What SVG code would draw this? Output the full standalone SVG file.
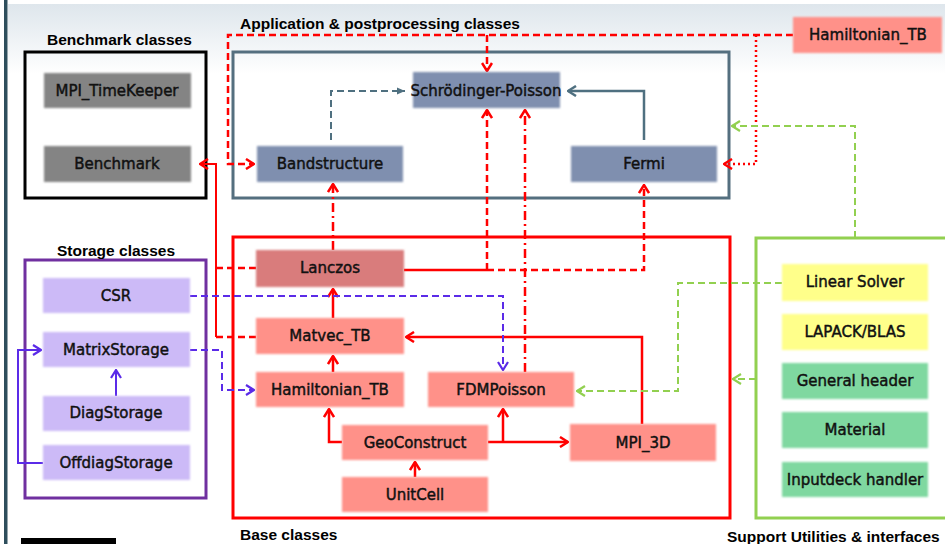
<svg xmlns="http://www.w3.org/2000/svg" width="945" height="544" viewBox="0 0 945 544">
<style>
.title{font-family:"Liberation Sans",Arial,sans-serif;font-weight:bold;font-size:15.5px;fill:#000}
.lbl{font-family:"DejaVu Sans",Verdana,sans-serif;font-size:15px;fill:#111;text-anchor:middle;stroke:#111;stroke-width:0.45}
.nd{filter:url(#soft)}
.gray{fill:#848484}
.slate{fill:#7F8FAF}
.rose{fill:#D97B7B}
.salmon{fill:#FF9189}
.lav{fill:#CCBAF7}
.yel{fill:#FFFF8A}
.mint{fill:#7FD8A0}
.box{fill:none;stroke-width:3}
.r{fill:none;stroke:#FF0000;stroke-width:2.5}
.dash{stroke-dasharray:7 4}
.dot{stroke-dasharray:2 3}
.dd{stroke-dasharray:9 4 2 4}
.b{fill:none;stroke:#5B2BE8;stroke-width:2}
.g{fill:none;stroke:#92D050;stroke-width:2}
.t{fill:none;stroke:#4F7080;stroke-width:2.5}
</style>
<defs>
<linearGradient id="bg" x1="0" y1="0" x2="0" y2="1">
<stop offset="0" stop-color="#DEE6EC"/>
<stop offset="1" stop-color="#FFFFFF"/>
</linearGradient>
<filter id="soft" x="-5%" y="-10%" width="110%" height="120%"><feGaussianBlur stdDeviation="0.9"/></filter>
<marker id="mr" viewBox="0 0 10 12" refX="9" refY="6" markerWidth="10" markerHeight="12" orient="auto" markerUnits="userSpaceOnUse"><path d="M1,1 L9,6 L1,11" fill="none" stroke="#FF0000" stroke-width="2.5" stroke-dasharray="none"/></marker>
<marker id="mb" viewBox="0 0 10 12" refX="9" refY="6" markerWidth="10" markerHeight="12" orient="auto" markerUnits="userSpaceOnUse"><path d="M1,1 L9,6 L1,11" fill="none" stroke="#5B2BE8" stroke-width="2.2" stroke-dasharray="none"/></marker>
<marker id="mg" viewBox="0 0 10 12" refX="9" refY="6" markerWidth="10" markerHeight="12" orient="auto" markerUnits="userSpaceOnUse"><path d="M1,1 L9,6 L1,11" fill="none" stroke="#92D050" stroke-width="2.2" stroke-dasharray="none"/></marker>
<marker id="mt" viewBox="0 0 10 12" refX="9" refY="6" markerWidth="10" markerHeight="12" orient="auto" markerUnits="userSpaceOnUse"><path d="M1,1 L9,6 L1,11" fill="none" stroke="#4F7080" stroke-width="2.5" stroke-dasharray="none"/></marker>
<marker id="mtf" viewBox="0 0 10 10" refX="9" refY="5" markerWidth="9" markerHeight="9" orient="auto" markerUnits="userSpaceOnUse"><path d="M0,1 L9,5 L0,9 Z" fill="#4F7080"/></marker>
</defs>
<rect x="0" y="0" width="945" height="544" fill="#FFFFFF"/>
<rect x="8" y="4" width="937" height="70" fill="url(#bg)"/>
<rect x="4" y="0" width="3.5" height="544" fill="#2E4E5C"/>
<rect x="21" y="538" width="95" height="6" fill="#000"/>

<g id="containers">
<rect x="25" y="52" width="181" height="146" class="box" stroke="#000"/>
<rect x="233" y="52" width="496" height="146" class="box" stroke="#546F7F"/>
<rect x="25" y="260" width="181" height="238" class="box" stroke="#7030A0"/>
<rect x="233" y="237" width="497" height="281" class="box" stroke="#FF0000"/>
<rect x="756" y="238" width="200" height="280" class="box" stroke="#92D050"/>
<text class="title" x="47" y="45">Benchmark classes</text>
<text class="title" x="240" y="29">Application &amp; postprocessing classes</text>
<text class="title" x="57" y="256">Storage classes</text>
<text class="title" x="240" y="540">Base classes</text>
<text class="title" x="727" y="542">Support Utilities &amp; interfaces</text>
</g>

<g id="connectors">
<path class="r dash" d="M793,35 H228 V164 H254" marker-end="url(#mr)"/>
<path class="r dash" d="M487,35 V71" marker-end="url(#mr)"/>
<path class="r dot" d="M756,35 V164 H724" marker-end="url(#mr)"/>
<path class="r" style="stroke-width:2" d="M216,337 V164 H200" marker-end="url(#mr)"/>
<path class="r dash" d="M216,268 H256 M216,337 H256"/>
<path class="r dd" d="M333,250 V184" marker-end="url(#mr)"/>
<path class="r" d="M404,270 H487"/>
<path class="r dash" d="M487,270 V110" marker-end="url(#mr)"/>
<path class="r dash" d="M487,270 H644 V185" marker-end="url(#mr)"/>
<path class="r dd" d="M525,372 V110" marker-end="url(#mr)"/>
<path class="r" d="M642,424 V337 H406" marker-end="url(#mr)"/>
<path class="r" d="M342,442 H329 V409" marker-end="url(#mr)"/>
<path class="r" d="M488,442 H568" marker-end="url(#mr)"/>
<path class="r" d="M503,442 V409" marker-end="url(#mr)"/>
<path class="r" d="M415,477 V462" marker-end="url(#mr)"/>
<path class="r" d="M333,372 V356" marker-end="url(#mr)"/>
<path class="r" d="M333,318 V289" marker-end="url(#mr)"/>
<path class="b dash" d="M190,296 H503 V370" marker-end="url(#mb)"/>
<path class="b dash" d="M190,350 H222 V390 H254" marker-end="url(#mb)"/>
<path class="b" d="M116,396 V370" marker-end="url(#mb)"/>
<path class="b" d="M43,463 H18 V350 H41" marker-end="url(#mb)"/>
<path class="g dash" d="M855,238 V126 H732" marker-end="url(#mg)"/>
<path class="g dash" d="M782,283 H678 V391 H577" marker-end="url(#mg)"/>
<path class="g dash" d="M756,379 H733" marker-end="url(#mg)"/>
<path class="t dash" style="stroke-width:2" d="M331,140 V91 H405" marker-end="url(#mtf)"/>
<path class="t" d="M644,140 V91 H568" marker-end="url(#mt)"/>
</g>

<g id="MPI_TimeKeeper"><rect class="nd gray" x="44" y="73" width="147" height="35"/><text class="lbl" x="117" y="96">MPI_TimeKeeper</text></g>
<g id="Benchmark"><rect class="nd gray" x="44" y="146" width="147" height="36"/><text class="lbl" x="117" y="169">Benchmark</text></g>
<g id="SchrodingerPoisson"><rect class="nd slate" x="413" y="72" width="147" height="36"/><text class="lbl" x="486" y="96">Schrödinger-Poisson</text></g>
<g id="Bandstructure"><rect class="nd slate" x="257" y="146" width="146" height="36"/><text class="lbl" x="330" y="169">Bandstructure</text></g>
<g id="Fermi"><rect class="nd slate" x="571" y="146" width="146" height="36"/><text class="lbl" x="644" y="169">Fermi</text></g>
<g id="Hamiltonian_TB_top"><rect class="nd salmon" x="793" y="17" width="149" height="36"/><text class="lbl" x="868" y="40">Hamiltonian_TB</text></g>

<g id="CSR"><rect class="nd lav" x="43" y="278" width="147" height="35"/><text class="lbl" x="116" y="301">CSR</text></g>
<g id="MatrixStorage"><rect class="nd lav" x="43" y="332" width="147" height="35"/><text class="lbl" x="116" y="355">MatrixStorage</text></g>
<g id="DiagStorage"><rect class="nd lav" x="43" y="396" width="147" height="35"/><text class="lbl" x="116" y="418">DiagStorage</text></g>
<g id="OffdiagStorage"><rect class="nd lav" x="43" y="445" width="147" height="35"/><text class="lbl" x="116" y="468">OffdiagStorage</text></g>

<g id="Lanczos"><rect class="nd rose" x="256" y="250" width="148" height="37"/><text class="lbl" x="330" y="273">Lanczos</text></g>
<g id="Matvec_TB"><rect class="nd salmon" x="256" y="318" width="148" height="36"/><text class="lbl" x="330" y="341">Matvec_TB</text></g>
<g id="Hamiltonian_TB"><rect class="nd salmon" x="256" y="372" width="148" height="35"/><text class="lbl" x="330" y="395">Hamiltonian_TB</text></g>
<g id="FDMPoisson"><rect class="nd salmon" x="428" y="372" width="146" height="35"/><text class="lbl" x="501" y="395">FDMPoisson</text></g>
<g id="GeoConstruct"><rect class="nd salmon" x="342" y="425" width="146" height="35"/><text class="lbl" x="415" y="448">GeoConstruct</text></g>
<g id="UnitCell"><rect class="nd salmon" x="342" y="477" width="146" height="35"/><text class="lbl" x="415" y="500">UnitCell</text></g>
<g id="MPI_3D"><rect class="nd salmon" x="570" y="424" width="146" height="37"/><text class="lbl" x="643" y="448">MPI_3D</text></g>

<g id="LinearSolver"><rect class="nd yel" x="782" y="264" width="146" height="37"/><text class="lbl" x="855" y="287">Linear Solver</text></g>
<g id="LAPACK_BLAS"><rect class="nd yel" x="782" y="314" width="146" height="36"/><text class="lbl" x="855" y="337">LAPACK/BLAS</text></g>
<g id="GeneralHeader"><rect class="nd mint" x="782" y="363" width="146" height="36"/><text class="lbl" x="855" y="386">General header</text></g>
<g id="Material"><rect class="nd mint" x="782" y="412" width="146" height="36"/><text class="lbl" x="855" y="435">Material</text></g>
<g id="InputdeckHandler"><rect class="nd mint" x="782" y="462" width="146" height="35"/><text class="lbl" x="855" y="485">Inputdeck handler</text></g>
</svg>
